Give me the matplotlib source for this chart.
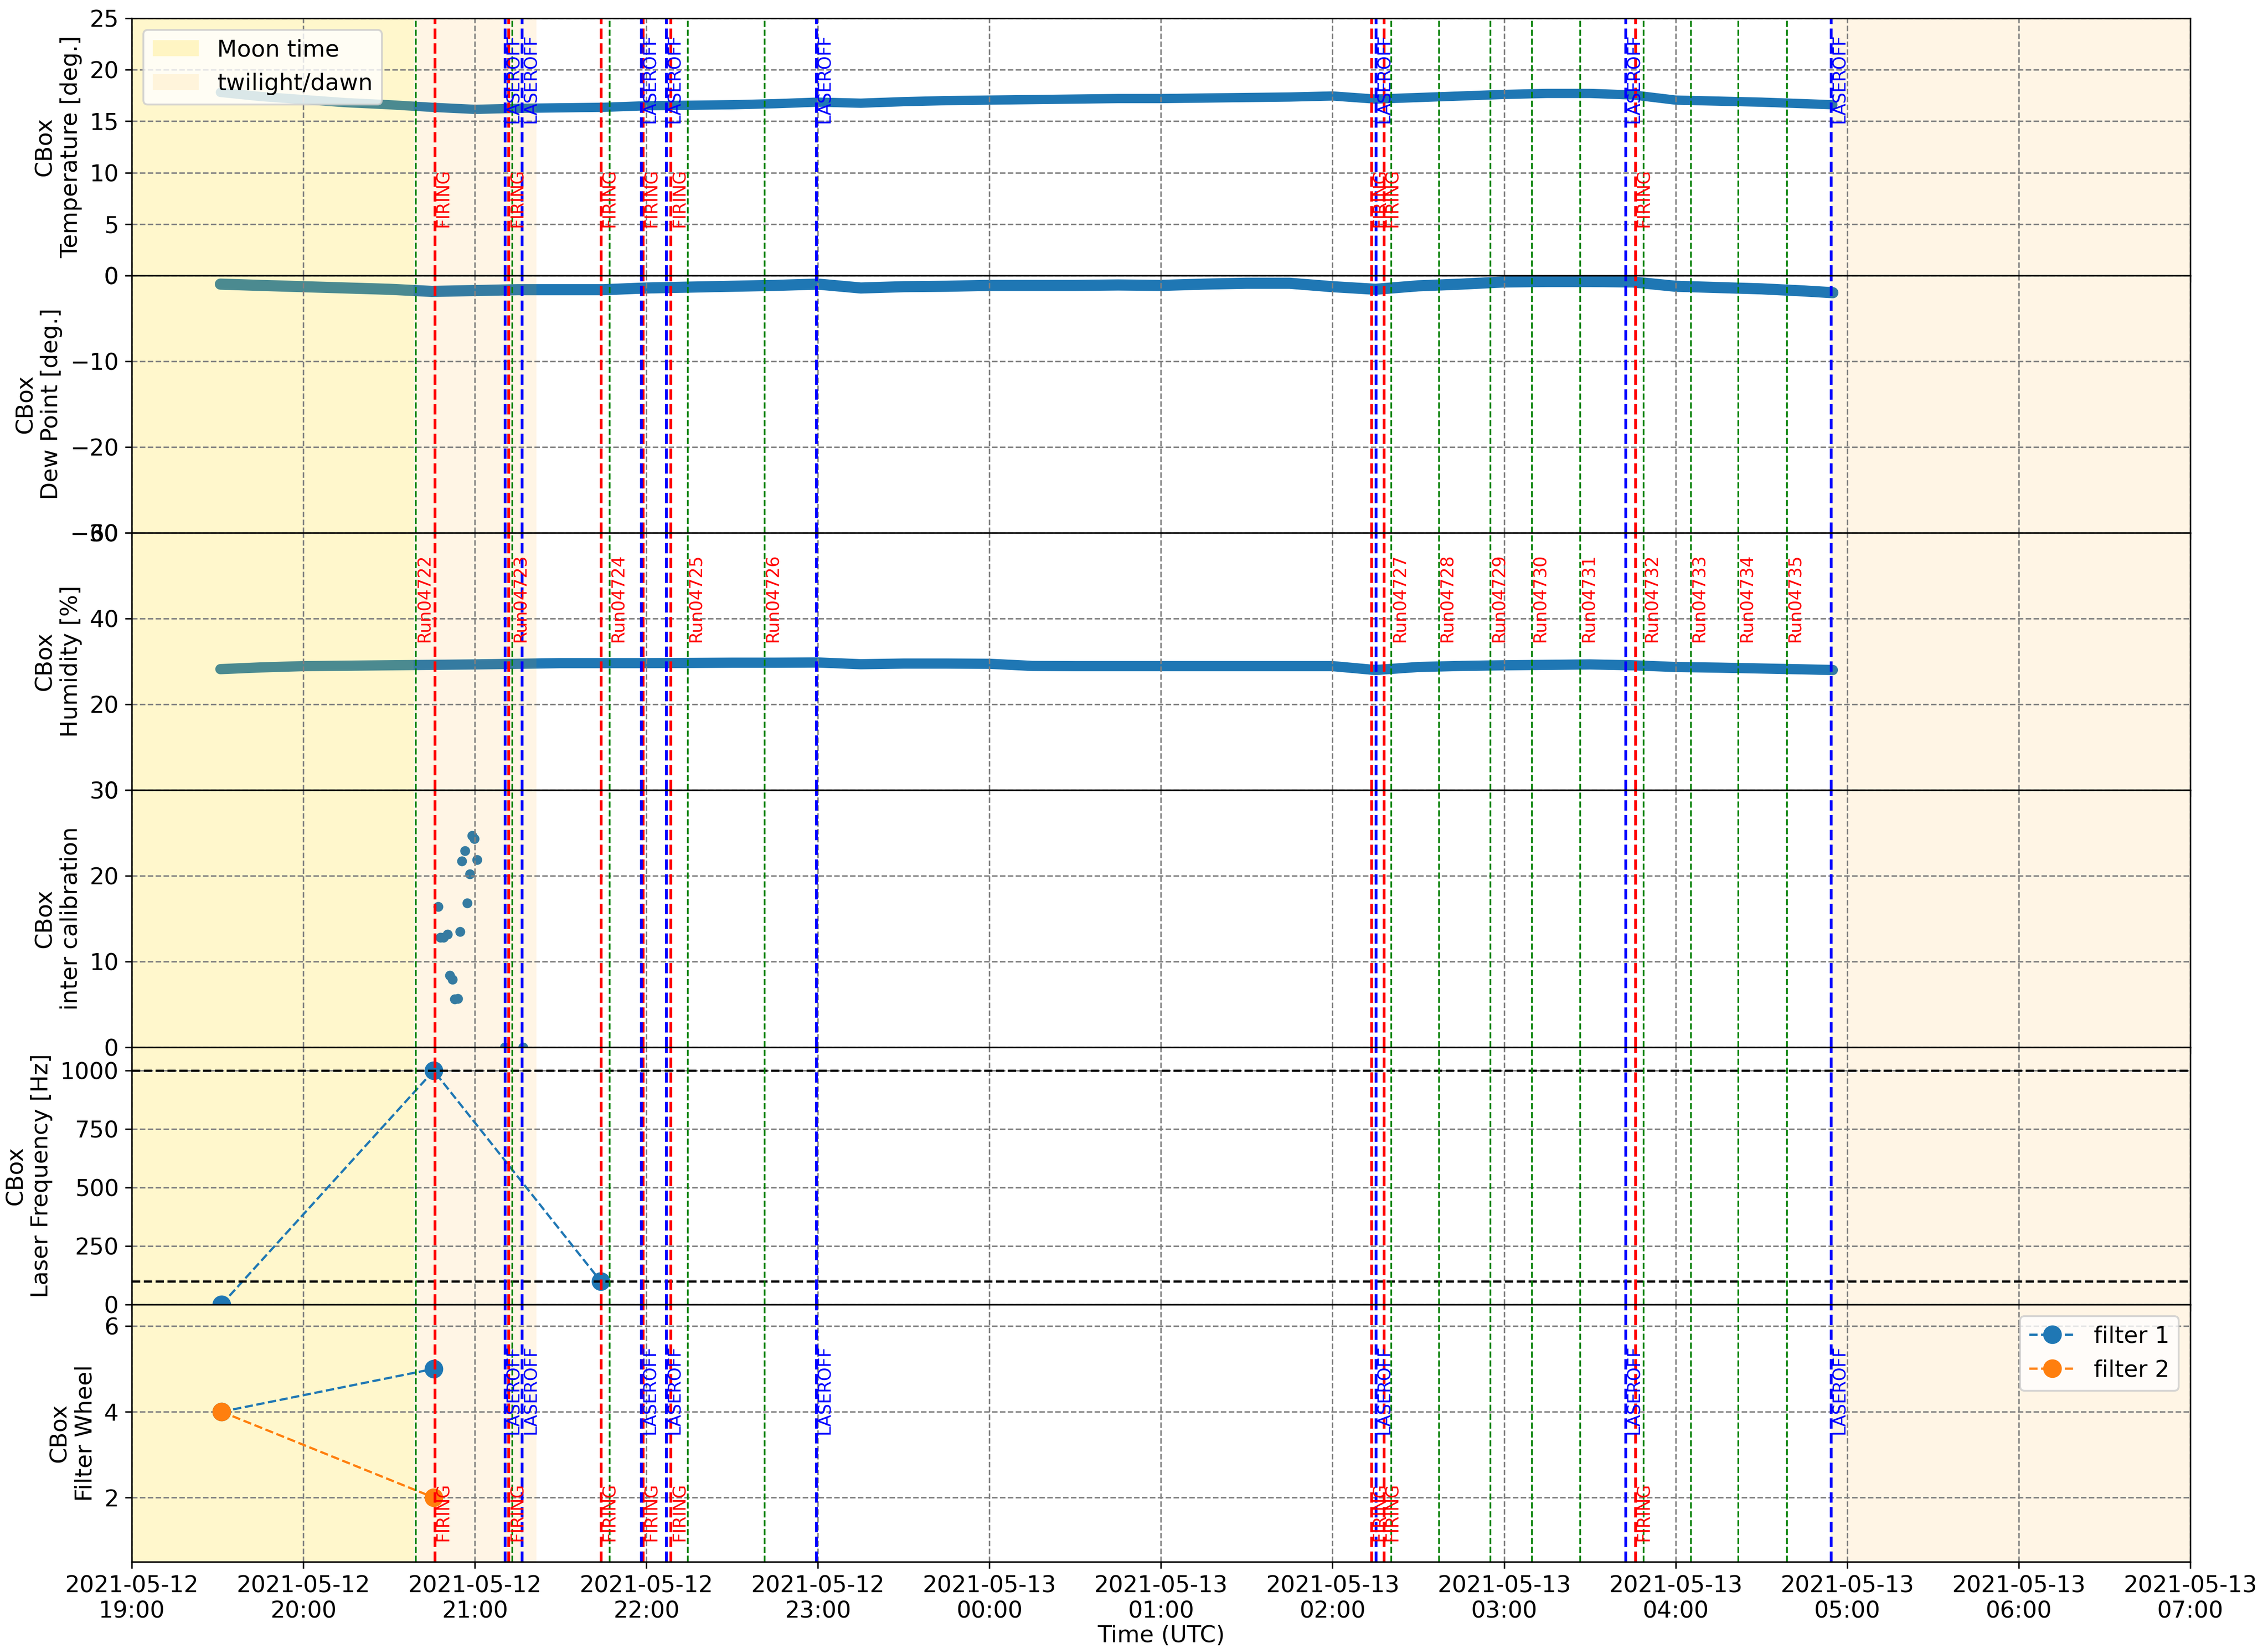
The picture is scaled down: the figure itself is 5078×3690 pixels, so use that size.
import pandas as pd
import matplotlib
matplotlib.use('Agg')
import matplotlib.pyplot as plt
import matplotlib.dates as mdates
from matplotlib.patches import Patch

plt.rcParams['font.size'] = 12.4


def ts(hm):
    # times before noon belong to the second night day
    day = '2021-05-13 ' if int(hm[:2]) < 12 else '2021-05-12 '
    return pd.Timestamp(day + hm)


# slow-control samples
sample_times = ['19:31', '19:45', '20:00', '20:15', '20:30', '20:45', '21:00', '21:15',
                '21:30', '21:45', '22:00', '22:15', '22:30', '22:45', '23:00', '23:15',
                '23:30', '23:45', '00:00', '00:15', '00:30', '00:45', '01:00', '01:15',
                '01:30', '01:45', '02:00', '02:15', '02:30', '02:45', '03:00', '03:15',
                '03:30', '03:45', '04:00', '04:15', '04:30', '04:45', '04:55']
temperature = [17.8, 17.4, 17.1, 16.8, 16.6, 16.35, 16.15, 16.25,
               16.3, 16.35, 16.5, 16.55, 16.6, 16.7, 16.85, 16.75,
               16.9, 17.0, 17.05, 17.1, 17.15, 17.2, 17.2, 17.25,
               17.3, 17.35, 17.45, 17.15, 17.3, 17.45, 17.6, 17.7,
               17.7, 17.55, 17.05, 16.95, 16.85, 16.7, 16.6]
dew_point = [-1.0, -1.15, -1.3, -1.45, -1.6, -1.85, -1.75, -1.65,
             -1.65, -1.65, -1.45, -1.35, -1.25, -1.15, -1.0, -1.45,
             -1.3, -1.25, -1.15, -1.15, -1.15, -1.1, -1.15, -1.0,
             -0.9, -0.9, -1.3, -1.6, -1.2, -1.0, -0.75, -0.7,
             -0.7, -0.75, -1.25, -1.4, -1.55, -1.8, -2.0]
humidity = [28.2, 28.6, 28.9, 29.0, 29.1, 29.2, 29.3, 29.45,
            29.6, 29.6, 29.6, 29.65, 29.7, 29.7, 29.75, 29.35,
            29.5, 29.5, 29.45, 28.95, 28.9, 28.9, 28.9, 28.9,
            28.9, 28.9, 28.9, 28.0, 28.7, 28.95, 29.1, 29.2,
            29.3, 29.1, 28.7, 28.55, 28.35, 28.15, 28.0]

ic_times = ['20:59:00', '20:59:48', '20:56:30', '20:55:30', '21:00:42', '20:58:12',
            '20:47:06', '20:57:18', '20:54:48', '20:47:54', '20:49:00', '20:50:24',
            '20:51:12', '20:52:06', '20:52:54', '20:54:00', '21:10:30', '21:16:48']
inter_calib = [24.7, 24.3, 22.9, 21.7, 21.9, 20.2,
               16.4, 16.8, 13.5, 12.8, 12.8, 13.2,
               8.4, 7.9, 5.6, 5.7, 0.0, 0.0]

freq_times = ['19:31:24', '20:45:36', '21:44:00']
laser_freq = [0, 1000, 100]

filter_times = ['19:31:24', '20:45:36']
filter1 = [4, 5]
filter2 = [4, 2]

# events
run_times = ['20:39:24', '21:13:06', '21:47:12', '22:14:30', '22:41:18', '02:20:36',
             '02:37:12', '02:55:18', '03:09:42', '03:26:42', '03:48:48', '04:05:18',
             '04:22:00', '04:38:54']
run_names = ['Run04722', 'Run04723', 'Run04724', 'Run04725', 'Run04726', 'Run04727',
             'Run04728', 'Run04729', 'Run04730', 'Run04731', 'Run04732', 'Run04733',
             'Run04734', 'Run04735']
firing_times = ['20:46:06', '21:11:54', '21:44:12', '21:58:48', '22:08:36', '02:13:36',
                '02:18:00', '03:46:00']
laseroff_times = ['21:10:36', '21:16:36', '21:58:18', '22:07:00', '22:59:30', '02:15:12',
                  '03:42:30', '04:54:24']

moon_time = ('19:00', '20:38:36')
twilight = [('20:38:36', '21:21:30'), ('04:54:30', '07:00')]

t_s = [ts(x) for x in sample_times]

fig, axes = plt.subplots(6, 1, sharex=True, figsize=(5078 / 300, 3690 / 300), dpi=300)
plt.subplots_adjust(left=0.0581, right=0.9657, top=0.9889, bottom=0.0523, hspace=0)

axes[0].plot(t_s, temperature, '-', color='C0', lw=5, solid_capstyle='round', zorder=1)
axes[1].plot(t_s, dew_point, '-', color='C0', lw=6, solid_capstyle='round', zorder=1)
axes[2].plot(t_s, humidity, '-', color='C0', lw=5.5, solid_capstyle='round', zorder=1)
axes[3].plot([ts(x) for x in ic_times], inter_calib, 'o', color='C0', ms=4.3, zorder=1)

axes[4].plot([ts(x) for x in freq_times], laser_freq, 'o--', color='C0', ms=9, lw=1.2)
axes[4].axhline(1000, color='k', ls='--', lw=1.2)
axes[4].axhline(100, color='k', ls='--', lw=1.2)

axes[5].plot([ts(x) for x in filter_times], filter1, 'o--', color='C0', ms=9, lw=1.2, label='filter 1')
axes[5].plot([ts(x) for x in filter_times], filter2, 'o--', color='C1', ms=9, lw=1.2, label='filter 2')

for ax in axes:
    ax.axvspan(ts(moon_time[0]), ts(moon_time[1]), color='gold', alpha=0.2, lw=0, zorder=1)
    for a, b in twilight:
        ax.axvspan(ts(a), ts(b), color='orange', alpha=0.1, lw=0, zorder=1)
    for t in run_times:
        ax.axvline(ts(t), color='green', ls='--', lw=0.9)
    for t in firing_times:
        ax.axvline(ts(t), color='red', ls='--', lw=1.5)
    for t in laseroff_times:
        ax.axvline(ts(t), color='blue', ls='--', lw=1.5)
    ax.grid(True, ls='--', color='gray')

# annotations
txt = dict(rotation=90, ha='left', va='bottom', fontsize=9.3)
for t in firing_times:
    axes[0].text(ts(t), 4.7, 'FIRING', color='red', **txt)
    axes[5].text(ts(t), 0.98, 'FIRING', color='red', **txt)
for t in laseroff_times:
    axes[0].text(ts(t), 14.8, 'LASEROFF', color='blue', **txt)
    axes[5].text(ts(t), 3.47, 'LASEROFF', color='blue', **txt)
for t, name in zip(run_times, run_names):
    axes[2].text(ts(t), 34.5, name, color='red', **txt)

axes[0].set_ylim(0, 25)
axes[0].set_yticks([0, 5, 10, 15, 20, 25])
axes[0].set_ylabel('CBox\nTemperature [deg.]')
axes[1].set_ylim(-30, 0)
axes[1].set_yticks([-30, -20, -10, 0])
axes[1].set_ylabel('CBox\nDew Point [deg.]')
axes[2].set_ylim(0, 60)
axes[2].set_yticks([0, 20, 40, 60])
axes[2].set_ylabel('CBox\nHumidity [%]')
axes[3].set_ylim(0, 30)
axes[3].set_yticks([0, 10, 20, 30])
axes[3].set_ylabel('CBox\ninter calibration')
axes[4].set_ylim(0, 1100)
axes[4].set_yticks([0, 250, 500, 750, 1000])
axes[4].set_ylabel('CBox\nLaser Frequency [Hz]')
axes[5].set_ylim(0.5, 6.5)
axes[5].set_yticks([2, 4, 6])
axes[5].set_ylabel('CBox\nFilter Wheel')

handles = [Patch(color='gold', alpha=0.2, lw=0, label='Moon time'),
           Patch(color='orange', alpha=0.1, lw=0, label='twilight/dawn')]
axes[0].legend(handles=handles, loc='upper left')
axes[5].legend(loc='upper right')

axes[5].set_xlim(ts('19:00'), ts('07:00'))
axes[5].xaxis.set_major_locator(mdates.HourLocator())
axes[5].xaxis.set_major_formatter(mdates.DateFormatter('%Y-%m-%d\n%H:%M'))
axes[5].set_xlabel('Time (UTC)', labelpad=1)

fig.savefig('out.png', dpi=300)
